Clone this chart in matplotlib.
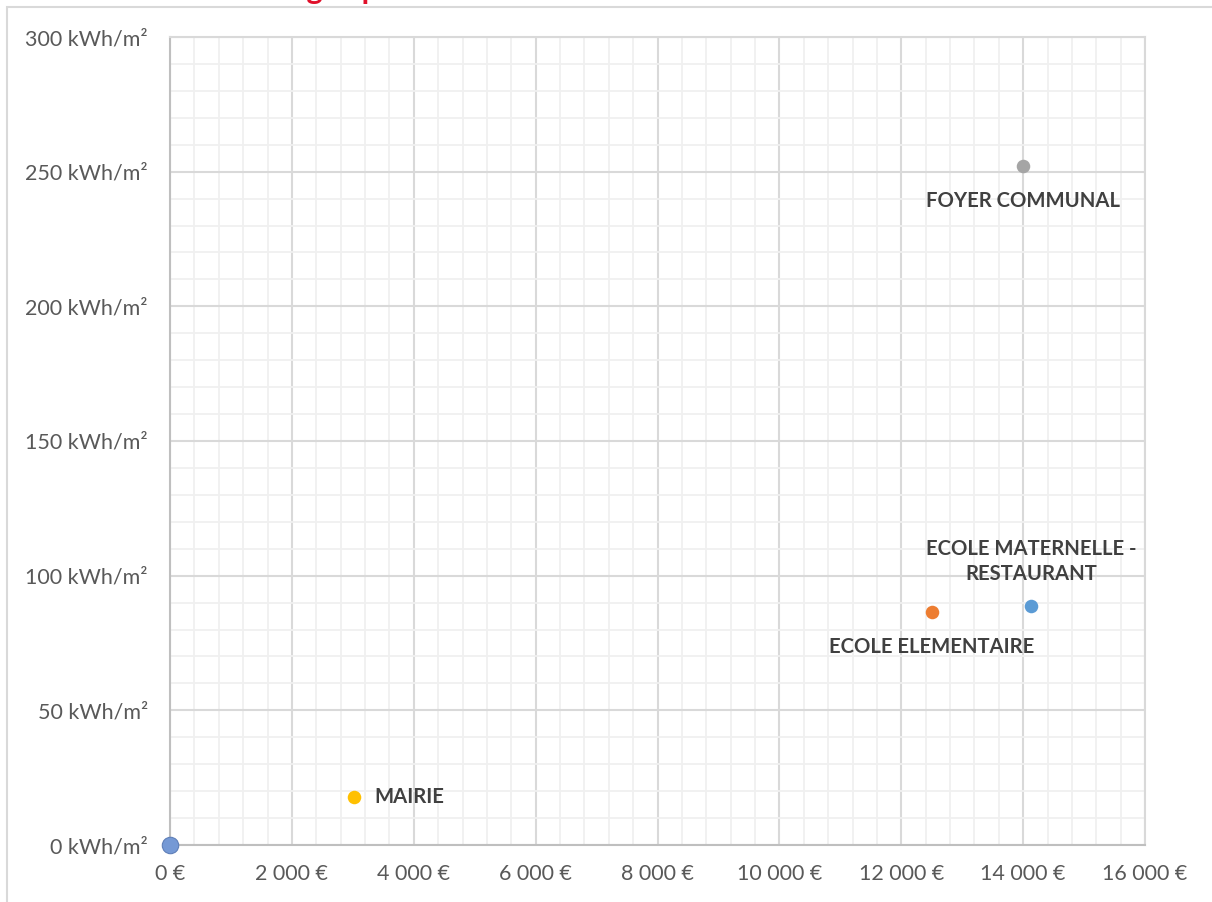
import matplotlib
matplotlib.use('Agg')
import matplotlib.pyplot as plt
from matplotlib.ticker import FuncFormatter, MultipleLocator
from matplotlib.patches import Rectangle

# buildings: cost (EUR) vs energy ratio (kWh/m2)
names = ['FOYER COMMUNAL', 'ECOLE ELEMENTAIRE', 'ECOLE MATERNELLE -\nRESTAURANT', 'MAIRIE', '']
costs = [14000, 12500, 14130, 3020, 0]
ratios = [252, 86.5, 88.7, 17.8, 0]
colors = ['#A5A5A5', '#ED7D31', '#5B9BD5', '#FFC000', '#7599D5']
label_pos = ['below', 'below', 'above', 'right', None]

W, H = 1212, 902
fig = plt.figure(figsize=(W / 100, H / 100), dpi=100)
plt.rcParams['font.family'] = ['Lato', 'DejaVu Sans']

# chart frame (cropped at right and bottom)
fig.patches.append(Rectangle((7 / W, -0.1), 1.2, 1 - 7 / H + 0.1, transform=fig.transFigure,
                             fill=False, edgecolor='#D9D9D9', linewidth=1.5))
# cut-off title at the very top: only the descenders are visible
fig.text(0.137, 1 + 1.5 / H, 'Ratio énergie  par coût', color='#E0102A',
         fontsize=22, fontweight='bold', va='baseline', ha='left')

ax = fig.add_axes([170 / W, 1 - 845 / H, 975 / W, 808 / H])
ax.set_xlim(0, 16000)
ax.set_ylim(0, 300)

ax.xaxis.set_major_locator(MultipleLocator(2000))
ax.xaxis.set_minor_locator(MultipleLocator(400))
ax.yaxis.set_major_locator(MultipleLocator(50))
ax.yaxis.set_minor_locator(MultipleLocator(10))
ax.grid(which='major', color='#D9D9D9', linewidth=1.5)
ax.grid(which='minor', color='#F0F0F0', linewidth=1.3)
ax.set_axisbelow(True)


def fmt_eur(v, pos):
    return '{:,.0f} €'.format(v).replace(',', ' ')


def fmt_kwh(v, pos):
    return '{:.0f} kWh/m²'.format(v)


ax.xaxis.set_major_formatter(FuncFormatter(fmt_eur))
ax.yaxis.set_major_formatter(FuncFormatter(fmt_kwh))
ax.tick_params(which='both', length=0, labelsize=15.5, labelcolor='#595959')
ax.tick_params(axis='x', pad=14)
ax.tick_params(axis='y', pad=16)

for side in ['left', 'bottom']:
    ax.spines[side].set_color('#BFBFBF')
    ax.spines[side].set_linewidth(1.5)
for side in ['top', 'right']:
    ax.spines[side].set_color('#D9D9D9')
    ax.spines[side].set_linewidth(1.5)

for i in range(len(names)):
    if names[i] == '':
        ax.scatter(costs[i], ratios[i], s=140, color=colors[i], edgecolor='#5F7FB8',
                   linewidth=0.8, zorder=5, clip_on=False)
        continue
    ax.scatter(costs[i], ratios[i], s=95, color=colors[i], linewidth=0, zorder=5)
    kw = dict(fontsize=14.6, fontweight='bold', color='#404040', zorder=6)
    if label_pos[i] == 'below':
        ax.annotate(names[i], (costs[i], ratios[i]), xytext=(0, -18), textcoords='offset points',
                    ha='center', va='top', **kw)
    elif label_pos[i] == 'above':
        ax.annotate(names[i], (costs[i], ratios[i]), xytext=(0, 16), textcoords='offset points',
                    ha='center', va='bottom', multialignment='center', linespacing=1.3, **kw)
    else:
        ax.annotate(names[i], (costs[i], ratios[i]), xytext=(15, 0), textcoords='offset points',
                    ha='left', va='center', **kw)

fig.savefig('out.png', dpi=100)
